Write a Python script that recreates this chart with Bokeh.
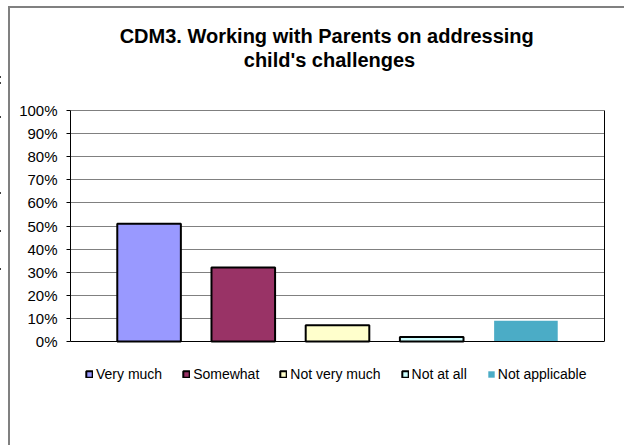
from bokeh.plotting import figure
from bokeh.models import (FactorRange, Legend, LegendItem, Title, InlineStyleSheet, Span,
                          LinearAxis, NumeralTickFormatter, FixedTicker, ColumnDataSource)
from bokeh.embed import file_html
from bokeh.resources import INLINE

# ---- data ----
categories = ["Very much", "Somewhat", "Not very much", "Not at all", "Not applicable"]
values = [0.51, 0.32, 0.07, 0.02, 0.09]
colors = ["#9999FF", "#993366", "#FFFFCC", "#CCFFFF", "#4BACC6"]
edge_alpha = [1, 1, 1, 1, 0]
y_ticks = [0, 0.1, 0.2, 0.3, 0.4, 0.5, 0.6, 0.7, 0.8, 0.9, 1.0]
title_lines = ["CDM3.  Working with Parents on addressing", "child's challenges"]

FONT = "Liberation Sans"

src = ColumnDataSource(dict(cat=categories, val=values, color=colors, la=edge_alpha))

# the frame extends below 0% so the legend (inside the frame) is not clipped
p = figure(frame_width=534, frame_height=290, output_backend="svg", toolbar_location=None,
           x_range=FactorRange(*categories, range_padding=0.1336, range_padding_units="percent"),
           y_range=(-0.2554, 1),
           min_border_left=70, min_border_right=20, min_border_top=110, min_border_bottom=45)

# outer chart-area border and the cut-off marks at the left edge (CSS, outside the frame)
p.stylesheets = [InlineStyleSheet(css=(
    ":host::after { content: ''; position: absolute; left: 8px; top: 6px; right: 0; bottom: 0;"
    " border-left: 2px solid #808080; border-top: 2px solid #808080;"
    " pointer-events: none; box-sizing: border-box; }"
    ":host::before { content: ''; position: absolute; left: 0; top: 76px; width: 8px;"
    " height: 2px; background: #000; pointer-events: none;"
    " box-shadow: 0 6px 0 #000, 0 40px 0 #000, 0 116px 0 #000, 0 154px 0 #000,"
    " 0 192px 0 #000; }"))]

p.outline_line_color = None
p.background_fill_color = "white"
p.border_fill_color = "white"
p.xaxis.visible = False
p.xgrid.grid_line_color = None
p.ygrid.grid_line_color = "#808080"
p.ygrid.grid_line_width = 1
p.ygrid.bounds = (0, 1)

p.yaxis.ticker = FixedTicker(ticks=y_ticks)
p.yaxis.bounds = (0, 1)
p.yaxis.formatter = NumeralTickFormatter(format="0%")
p.yaxis.minor_tick_line_color = None
p.yaxis.major_tick_in = 0
p.yaxis.major_tick_out = 4
p.yaxis.major_tick_line_color = "black"
p.yaxis.axis_line_color = "black"
p.yaxis.major_label_text_font = FONT
p.yaxis.major_label_text_font_size = "15px"
p.yaxis.major_label_text_color = "black"
p.yaxis.major_label_standoff = 9

# plot-area box: top/bottom lines and a bare right axis line
p.add_layout(Span(location=1, dimension="width", line_color="black", line_width=1))
p.add_layout(Span(location=0, dimension="width", line_color="black", line_width=1))
p.add_layout(LinearAxis(ticker=FixedTicker(ticks=[]), bounds=(0, 1), axis_line_color="black",
                        major_tick_line_color=None, minor_tick_line_color=None), "right")

r = p.vbar(x="cat", top="val", bottom=0, width=0.675, source=src, fill_color="color",
           line_color="black", line_width=2, line_alpha="la")

# title: spacer nearest the frame, then line 2, then line 1
# (right padding nudges the centred text a little to the left, as in the original)
p.add_layout(Title(text=" ", standoff=37, text_font_size="1px"), "above")
p.add_layout(Title(text=title_lines[1], align="center", standoff=0,
                   padding=dict(left=0, right=16, top=0, bottom=0),
                   text_font=FONT, text_font_style="bold", text_font_size="20px",
                   text_color="black"), "above")
p.add_layout(Title(text=title_lines[0], align="center", standoff=0,
                   padding=dict(left=0, right=16, top=0, bottom=0),
                   text_font=FONT, text_font_style="bold", text_font_size="20px",
                   text_color="black"), "above")

items = [LegendItem(label=c, renderers=[r], index=i) for i, c in enumerate(categories)]
legend = Legend(items=items, orientation="horizontal", location=(15, 18),
                border_line_color=None, background_fill_alpha=0,
                glyph_width=8, glyph_height=8, label_standoff=3, spacing=20,
                padding=0, margin=0, label_text_font=FONT, label_text_font_size="14px",
                label_text_color="black", label_height=14)
p.add_layout(legend)

open("out.html", "w").write(file_html(p, INLINE))
